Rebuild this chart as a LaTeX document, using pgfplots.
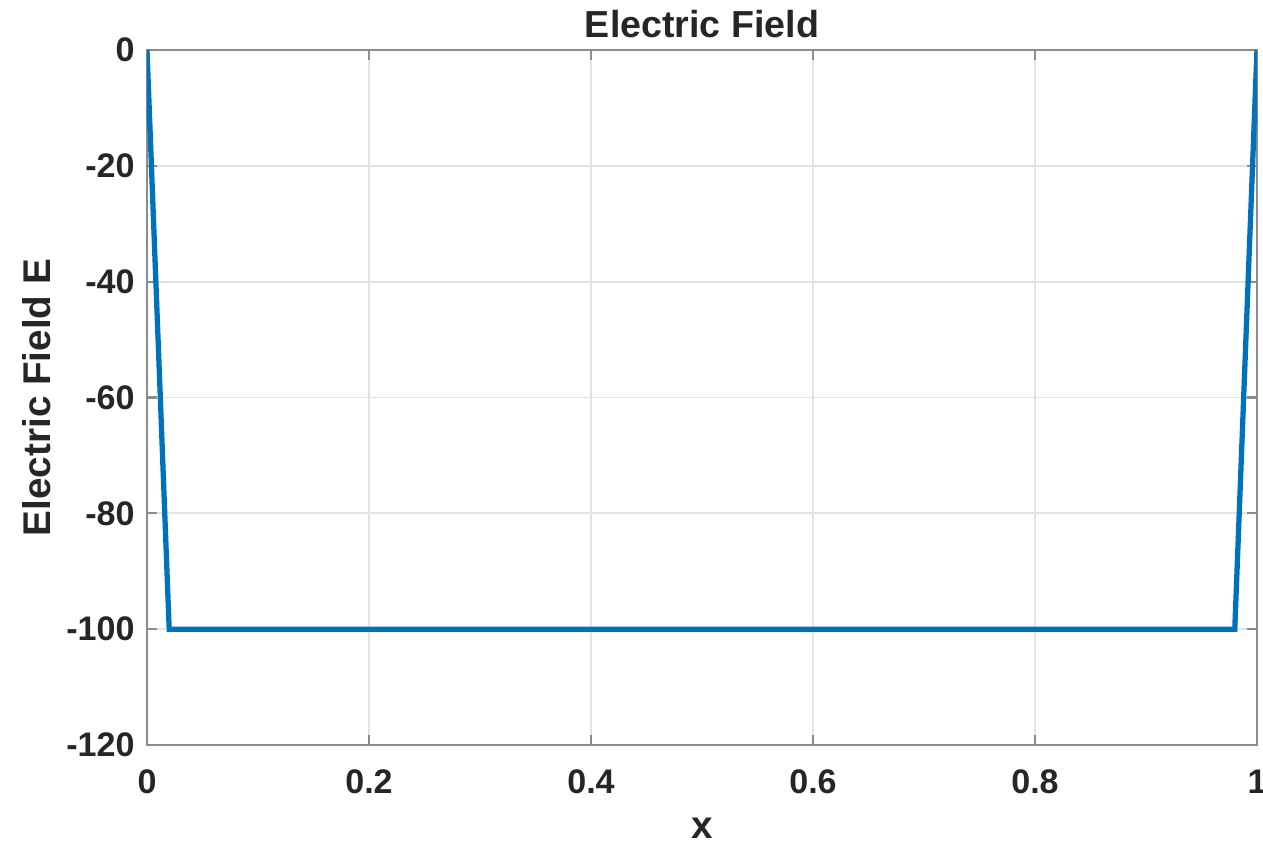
\documentclass[border=0pt]{standalone}
\usepackage{fontspec}
\setmainfont{Liberation Sans}
\usepackage{pgfplots}
\pgfplotsset{compat=1.18}
\definecolor{mblue}{rgb}{0,0.447,0.741}
\definecolor{axgray}{rgb}{0.55,0.55,0.55}
\definecolor{txt}{rgb}{0.15,0.15,0.15}
\begin{document}
\begin{tikzpicture}
\path[use as bounding box] (-1.47cm,-0.98cm) rectangle (11.16cm,7.45cm);
\begin{axis}[
  scale only axis,
  width=11.1cm, height=6.95cm,
  xmin=0, xmax=1, ymin=-120, ymax=0,
  xtick={0,0.2,0.4,0.6,0.8,1},
  ytick={-120,-100,-80,-60,-40,-20,0},
  xticklabels={0,0.2,0.4,0.6,0.8,1},
  yticklabels={-120,-100,-80,-60,-40,-20,0},
  tick align=inside,
  major tick length=0.1cm,
  tick style={axgray, line width=0.6pt},
  axis line style={axgray, line width=0.8pt},
  grid=major,
  major grid style={gray!22, line width=0.5pt},
  tick label style={font=\bfseries\fontsize{9.7}{11}\selectfont, text=txt},
  xticklabel style={yshift=-3.5pt},
  every axis title shift=0pt,
  title={Electric Field},
  title style={font=\bfseries\fontsize{10.7}{12}\selectfont, text=txt,
    at={(axis description cs:0.5,1.037)}, anchor=center, yshift=0pt},
  xlabel={x},
  ylabel={Electric Field E},
  label style={font=\bfseries\fontsize{11}{12}\selectfont, text=txt},
  xlabel style={at={(axis description cs:0.5,-0.1194)}, anchor=center},
  ylabel style={at={(axis description cs:-0.099,0.5)}, anchor=center},
]
\addplot[mblue, line width=1.5pt] coordinates {
(0,0) (0.02,-100) (0.04,-100) (0.06,-100) (0.08,-100) (0.10,-100)
(0.12,-100) (0.14,-100) (0.16,-100) (0.18,-100) (0.20,-100)
(0.22,-100) (0.24,-100) (0.26,-100) (0.28,-100) (0.30,-100)
(0.32,-100) (0.34,-100) (0.36,-100) (0.38,-100) (0.40,-100)
(0.42,-100) (0.44,-100) (0.46,-100) (0.48,-100) (0.50,-100)
(0.52,-100) (0.54,-100) (0.56,-100) (0.58,-100) (0.60,-100)
(0.62,-100) (0.64,-100) (0.66,-100) (0.68,-100) (0.70,-100)
(0.72,-100) (0.74,-100) (0.76,-100) (0.78,-100) (0.80,-100)
(0.82,-100) (0.84,-100) (0.86,-100) (0.88,-100) (0.90,-100)
(0.92,-100) (0.94,-100) (0.96,-100) (0.98,-100) (1,0)
};
\end{axis}
\end{tikzpicture}
\end{document}
